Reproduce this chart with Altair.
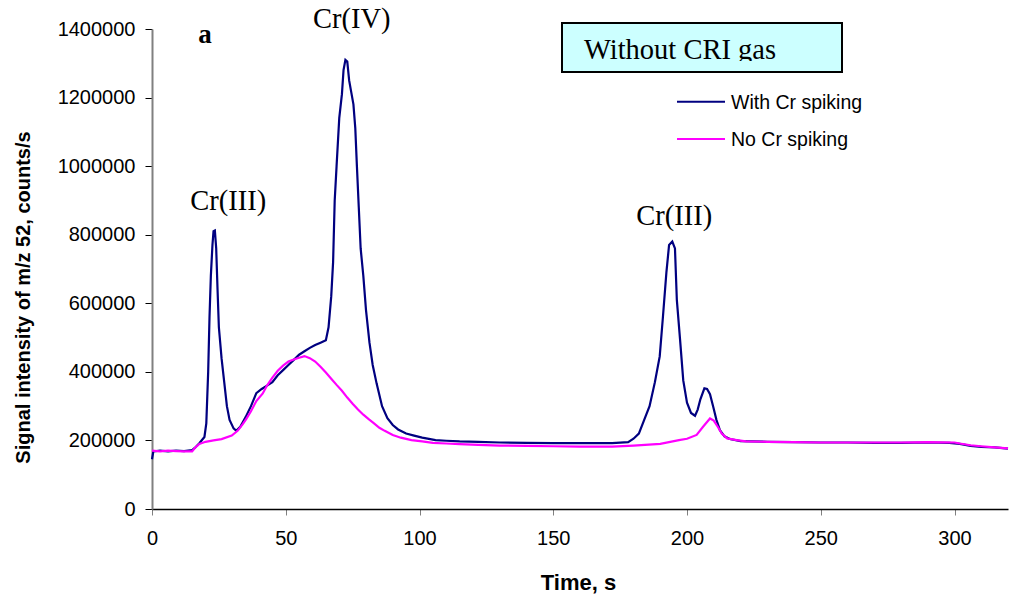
import altair as alt
import pandas as pd

# Chromatogram of m/z 52 signal (counts/s) against time (s)
with_t = [0, 0.5, 3, 6, 9, 12, 15, 16, 17.7, 19.6, 20.3, 21, 21.5, 22, 22.6, 23, 23.5, 24,
          24.5, 25, 26, 27, 28, 29, 30.5, 31.5, 33, 35, 37, 39, 41, 43, 45, 47, 49, 51, 53,
          55, 57, 59, 61, 63, 65, 66, 67, 67.7, 68.3, 69, 70, 71, 71.6, 72.3, 73, 73.7, 74.5,
          75.3, 76, 76.6, 77.3, 78, 79, 80, 81.3, 82.5, 84, 86, 88, 90, 92, 95, 98, 101, 106,
          110, 115, 122, 130, 140, 150, 160, 172, 178, 180, 182, 184, 186, 188, 189.8, 191,
          192.3, 193.3, 194.5, 195.5, 196.2, 197.4, 198.6, 200, 201.5, 203, 204, 205, 206.5,
          207.5, 208.6, 209.8, 211, 212.3, 214, 216, 220, 230, 240, 250, 260, 270, 280, 290,
          298, 302, 306, 310, 315, 320]
with_v = [145000, 168000, 170000, 168000, 170000, 169000, 172000, 178000, 192000, 210000,
          250000, 400000, 560000, 680000, 770000, 810000, 812000, 760000, 640000, 530000,
          440000, 370000, 300000, 260000, 235000, 228000, 240000, 268000, 300000, 338000,
          350000, 360000, 370000, 390000, 405000, 420000, 435000, 450000, 460000, 470000,
          478000, 485000, 492000, 530000, 620000, 720000, 900000, 1000000, 1140000, 1210000,
          1280000, 1310000, 1305000, 1250000, 1215000, 1180000, 1110000, 1000000, 880000,
          760000, 680000, 580000, 485000, 420000, 365000, 300000, 265000, 245000, 232000,
          220000, 214000, 208000, 201000, 199000, 197000, 196000, 194000, 193000, 192000,
          192000, 192000, 195000, 205000, 220000, 260000, 300000, 370000, 445000, 560000,
          690000, 770000, 780000, 760000, 610000, 495000, 375000, 310000, 280000, 272000,
          290000, 320000, 352000, 350000, 335000, 298000, 260000, 230000, 212000, 204000,
          198000, 196000, 195000, 194000, 194000, 193000, 193000, 194000, 193000, 190000,
          184000, 181000, 180000, 176000]

no_t = [0, 3, 6, 9, 12, 15, 16, 17.7, 20, 23, 26, 29.8, 32, 34, 35.2, 37, 39, 41.4, 43,
        45, 47, 49, 51, 53, 55, 57, 59, 61, 63, 65, 67, 69, 71, 73, 75, 77, 79, 81, 83, 85,
        87, 90, 93, 97, 101, 105, 110, 115, 122, 130, 140, 150, 160, 172, 180, 190, 197,
        200, 203.6, 206, 208.6, 210, 211.5, 213, 215, 218.6, 222, 230, 240, 250, 260, 270,
        280, 290, 300, 302, 306, 310, 315, 320]
no_v = [170000, 168000, 170000, 169000, 168000, 168000, 178000, 190000, 196000, 200000,
        204000, 214000, 228000, 248000, 262000, 285000, 315000, 337000, 360000, 383000,
        403000, 418000, 430000, 436000, 441000, 446000, 440000, 430000, 415000, 398000,
        380000, 362000, 345000, 325000, 307000, 290000, 275000, 262000, 250000, 237000,
        228000, 216000, 208000, 201000, 197000, 193000, 191000, 189000, 187000, 185000,
        184000, 183000, 182000, 182000, 185000, 190000, 201000, 205000, 216000, 240000,
        264000, 258000, 240000, 220000, 206000, 201000, 197000, 196000, 195000, 194000,
        194000, 194000, 194000, 195000, 194000, 191000, 186000, 183000, 180000, 177000]

peak_labels = ["Cr(III)", "Cr(IV)", "Cr(III)"]
peak_t = [28.5, 74.7, 195.2]
peak_v = [872000, 1402000, 828000]

legend_names = ["With Cr spiking", "No Cr spiking"]
series_colors = ["#000080", "#FF00FF"]

x_ticks = [0, 50, 100, 150, 200, 250, 300]
y_ticks = [0, 200000, 400000, 600000, 800000, 1000000, 1200000, 1400000]

W, H = 856, 480
SANS = "Liberation Sans"
SERIF = "Liberation Serif"

with_df = pd.DataFrame({"t": with_t, "v": with_v})
no_df = pd.DataFrame({"t": no_t, "v": no_v})
peaks_df = pd.DataFrame({"label": peak_labels, "t": peak_t, "v": peak_v})
one = pd.DataFrame({"k": [0]})

x_enc = alt.X(
    "t:Q",
    scale=alt.Scale(domain=[0, 320], nice=False, zero=False),
    axis=alt.Axis(
        values=x_ticks, title="Time, s", grid=False, labelFlush=False,
        domainColor="#000000", domainWidth=1.5, tickColor="#808080", tickSize=6,
        labelFont=SANS, labelFontSize=20, labelColor="#000000", labelPadding=13,
        titleFont=SANS, titleFontSize=22, titleFontWeight="bold", titleColor="#000000",
        titleX=W / 2 - 2, titleY=73, titleBaseline="middle",
    ),
)
y_enc = alt.Y(
    "v:Q",
    scale=alt.Scale(domain=[0, 1400000], nice=False),
    axis=alt.Axis(
        values=y_ticks, format="d", title="Signal intensity of m/z 52, counts/s", grid=False,
        labelFlush=False,
        domainColor="#808080", domainWidth=2, tickColor="#000000", tickSize=7,
        labelFont=SANS, labelFontSize=20, labelColor="#000000", labelPadding=10,
        titleFont=SANS, titleFontSize=20, titleFontWeight="bold", titleColor="#000000",
        titleX=-129, titleY=268, titleAngle=270, titleAlign="center", titleBaseline="middle",
    ),
)

line_with = alt.Chart(with_df).mark_line(color=series_colors[0], strokeWidth=2.2).encode(x=x_enc, y=y_enc)
line_no = alt.Chart(no_df).mark_line(color=series_colors[1], strokeWidth=2.2).encode(x="t:Q", y="v:Q")

peaks = alt.Chart(peaks_df).mark_text(
    font=SERIF, fontSize=28.5, color="#000000", align="center", baseline="alphabetic"
).encode(x="t:Q", y="v:Q", text="label:N")

panel_letter = alt.Chart(one).mark_text(
    text="a", font=SERIF, fontSize=27, fontWeight="bold", color="#000000",
    align="center", baseline="alphabetic"
).encode(x=alt.value(53), y=alt.value(14.3))

box = alt.Chart(one).mark_rect(fill="#CCFFFF", stroke="#000000", strokeWidth=2).encode(
    x=alt.value(410), x2=alt.value(690), y=alt.value(-6), y2=alt.value(43)
)
box_text = alt.Chart(one).mark_text(
    text="Without CRI gas", font=SERIF, fontSize=28.5, color="#000000",
    align="left", baseline="alphabetic"
).encode(x=alt.value(432), y=alt.value(30.3))
box_clip = alt.Chart(one).mark_rect(fill="#CCFFFF").encode(
    x=alt.value(412), x2=alt.value(688), y=alt.value(32), y2=alt.value(41.5)
)

legend_layers = []
for i, (name, col) in enumerate(zip(legend_names, series_colors)):
    ly = 72.7 + i * 37.3
    legend_layers.append(
        alt.Chart(one).mark_rule(color=col, strokeWidth=2).encode(
            x=alt.value(525), x2=alt.value(573), y=alt.value(ly)
        )
    )
    legend_layers.append(
        alt.Chart(one).mark_text(
            text=name, font=SANS, fontSize=19.5, color="#000000",
            align="left", baseline="middle"
        ).encode(x=alt.value(579), y=alt.value(ly + 1))
    )

chart = alt.layer(
    line_with, line_no, peaks, panel_letter, box, box_text, box_clip, *legend_layers
).properties(
    width=W, height=H,
    autosize=alt.AutoSizeParams(type="none"),
    padding={"left": 152, "top": 29, "right": 17, "bottom": 89},
    background="#FFFFFF",
).configure_view(stroke=None)

chart.save("out.html", embed_options={"renderer": "svg", "actions": False})
